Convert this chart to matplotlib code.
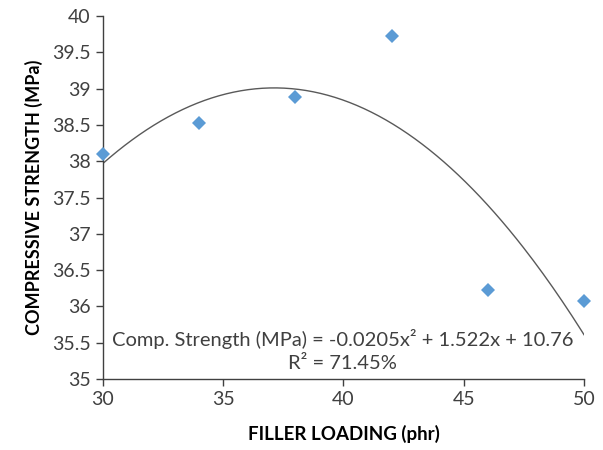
import numpy as np
import matplotlib.pyplot as plt

plt.rcParams['font.family'] = ['Lato', 'DejaVu Sans']

# filler loading (phr) vs compressive strength (MPa)
loading = [30, 34, 38, 42, 46, 50]
strength = [38.1, 38.53, 38.88, 39.72, 36.23, 36.07]

# trendline coefficients as printed on the chart
trend_coef = [-0.0205, 1.522, 10.76]
eq_label = "Comp. Strength (MPa) = -0.0205x\u00b2 + 1.522x + 10.76"
r2_label = "R\u00b2 = 71.45%"

fig = plt.figure(figsize=(6.03, 4.5), dpi=100)
ax = fig.add_axes([0.1708, 0.1578, 0.7977, 0.8066])

xs = np.linspace(min(loading), max(loading), 200)
ax.plot(xs, np.polyval(trend_coef, xs), color='#595959', lw=1.0)
ax.plot(loading, strength, 'D', color='#5B9BD5', markersize=7.5,
        markeredgewidth=0, clip_on=False, zorder=3)

ax.set_xlim(30, 50)
ax.set_ylim(35, 40)
ax.set_xticks([30, 35, 40, 45, 50])
ax.set_yticks(np.arange(35, 40.01, 0.5))
ax.set_yticklabels(['35', '35.5', '36', '36.5', '37', '37.5', '38', '38.5', '39', '39.5', '40'])

for s in ['top', 'right']:
    ax.spines[s].set_visible(False)
for s in ['left', 'bottom']:
    ax.spines[s].set_color('#404040')
    ax.spines[s].set_linewidth(1.0)
ax.tick_params(direction='out', length=5, width=1, color='#404040',
               labelcolor='#404040', labelsize=14, pad=4)

ax.set_xlabel('FILLER LOADING (phr)', fontsize=13.5, fontweight='bold', labelpad=12)
ax.set_ylabel('COMPRESSIVE STRENGTH (MPa)', fontsize=13, fontweight='bold', labelpad=6)

ax.text(39.95, 35.55, eq_label, ha='center', va='center', fontsize=14.5, color='#404040')
ax.text(39.95, 35.22, r2_label, ha='center', va='center', fontsize=14.5, color='#404040')

fig.savefig('out.png', dpi=100)
